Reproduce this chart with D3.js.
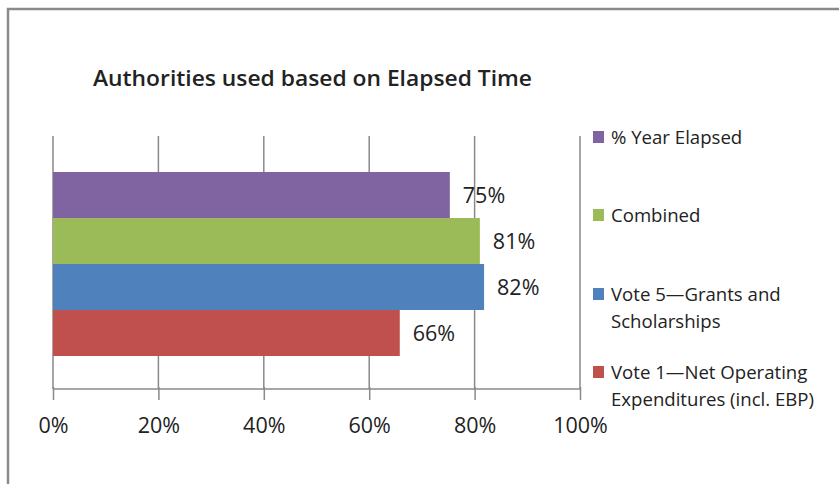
<!DOCTYPE html>
<html>
<head>
<meta charset="utf-8">
<script src="https://cdn.jsdelivr.net/npm/d3@7"></script>
<style>
  body { margin: 0; background: #fff; }
  text { font-family: "Open Sans", "Noto Sans", sans-serif; fill: #222; }
</style>
</head>
<body>
<svg id="chart"></svg>
<script>
// series, drawn top to bottom
var series  = ['% Year Elapsed', 'Combined', 'Vote 5\u2014Grants and Scholarships', 'Vote 1\u2014Net Operating Expenditures (incl. EBP)'];
var values  = [0.753, 0.81, 0.818, 0.658];
var labels  = ['75%', '81%', '82%', '66%'];
var colors  = ['#8064a2', '#9bbb59', '#4f81bd', '#c0504d'];
var legendLines = [['% Year Elapsed'], ['Combined'], ['Vote 5\u2014Grants and', 'Scholarships'], ['Vote 1\u2014Net Operating', 'Expenditures (incl. EBP)']];
var xTicks  = [0, 0.2, 0.4, 0.6, 0.8, 1.0];

var width  = 839;
var height = 484;
var plot = { left: 53, right: 580, top: 136, bottom: 389 };

var svg = d3.select('#chart')
            .attr('width', width)
            .attr('height', height);

// outer frame
svg.append('rect')
   .attr('x', 8).attr('y', 9)
   .attr('width', width + 10).attr('height', height + 10)
   .attr('fill', '#fff')
   .attr('stroke', '#8a8a8a')
   .attr('stroke-width', 2.5);

svg.append('text')
   .attr('x', 93).attr('y', 86)
   .style('font-size', '21px')
   .style('font-weight', '600')
   .attr('textLength', 439)
   .attr('lengthAdjust', 'spacingAndGlyphs')
   .text('Authorities used based on Elapsed Time');

var xScale = d3.scaleLinear()
               .domain([0, 1])
               .range([plot.left, plot.right]);

var yScale = d3.scaleBand()
               .domain(series)
               .range([172, 356]);

// gridlines
svg.append('g')
   .selectAll('line')
   .data(xTicks)
   .enter().append('line')
   .attr('x1', function(d){ return xScale(d); })
   .attr('x2', function(d){ return xScale(d); })
   .attr('y1', plot.top)
   .attr('y2', plot.bottom)
   .attr('stroke', '#8a8a8a')
   .attr('stroke-width', 1.5);

// bars
svg.append('g')
   .selectAll('rect')
   .data(values)
   .enter().append('rect')
   .attr('x', xScale(0))
   .attr('y', function(d, i){ return yScale(series[i]); })
   .attr('width', function(d){ return xScale(d) - xScale(0); })
   .attr('height', yScale.bandwidth())
   .attr('fill', function(d, i){ return colors[i]; });

// data labels
svg.append('g')
   .selectAll('text')
   .data(values)
   .enter().append('text')
   .attr('x', function(d){ return xScale(d) + 13; })
   .attr('y', function(d, i){ return yScale(series[i]) + yScale.bandwidth() / 2; })
   .attr('dy', '0.36em')
   .style('font-size', '21.5px')
   .text(function(d, i){ return labels[i]; });

// x axis
var xAxis = d3.axisBottom(xScale)
              .tickValues(xTicks)
              .tickFormat(d3.format('.0%'))
              .tickSize(11)
              .tickPadding(18);

var x_axis = svg.append('g')
                .attr('class', 'x_axis')
                .attr('transform', 'translate(0,' + plot.bottom + ')')
                .call(xAxis);
x_axis.select('.domain').remove();
x_axis.append('line')
      .attr('x1', plot.left).attr('x2', plot.right)
      .attr('stroke', '#8a8a8a').attr('stroke-width', 1.5);
x_axis.selectAll('.tick line').attr('y1', -2).attr('stroke', '#8a8a8a').attr('stroke-width', 1.5);
x_axis.selectAll('.tick text')
      .style('font-size', '21.5px')
      .style('font-family', '"Open Sans", "Noto Sans", sans-serif')
      .attr('fill', '#222');

// legend
var legendY = [137, 215, 294, 372];
var legend = svg.append('g')
                .selectAll('g')
                .data(legendLines)
                .enter().append('g')
                .attr('transform', function(d, i){ return 'translate(593,' + legendY[i] + ')'; });
legend.append('rect')
      .attr('x', 0).attr('y', -6)
      .attr('width', 11).attr('height', 12)
      .attr('fill', function(d, i){ return colors[i]; });
legend.append('text')
      .style('font-size', '18.6px')
      .selectAll('tspan')
      .data(function(d){ return d; })
      .enter().append('tspan')
      .attr('x', 18)
      .attr('y', function(d, j){ return j * 27; })
      .attr('dy', '0.36em')
      .text(function(d){ return d; });
</script>
</body>
</html>
